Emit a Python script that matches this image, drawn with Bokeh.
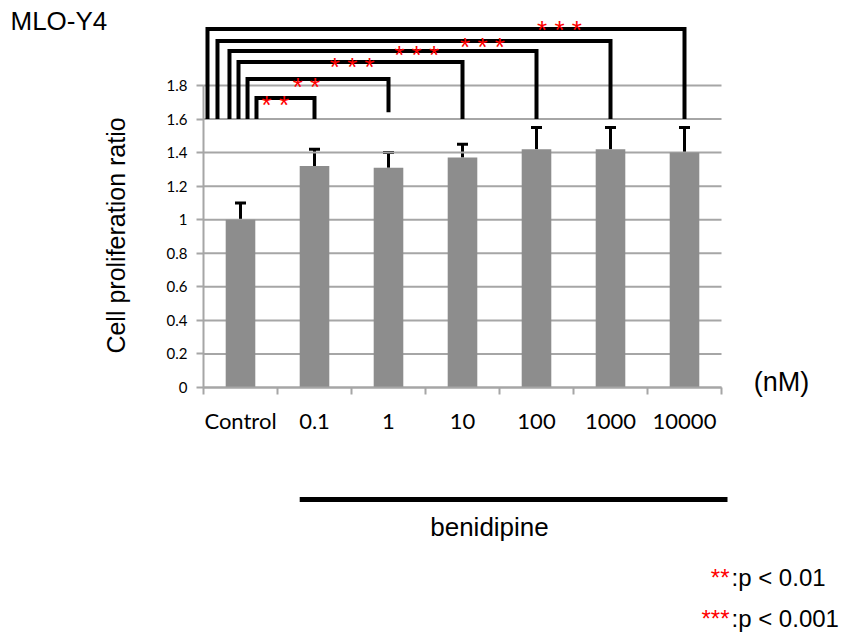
import math
from bokeh.plotting import figure
from bokeh.models import ColumnDataSource, Range1d, FixedTicker, Whisker, TeeHead, Label
from bokeh.core.properties import value
from bokeh.embed import file_html
from bokeh.resources import INLINE

# ---------------- data ----------------
categories = ["Control", "0.1", "1", "10", "100", "1000", "10000"]
ratio = [1.00, 1.32, 1.31, 1.37, 1.42, 1.42, 1.40]
sd = [0.10, 0.10, 0.09, 0.08, 0.13, 0.13, 0.15]
y_ticks = [0, 0.2, 0.4, 0.6, 0.8, 1.0, 1.2, 1.4, 1.6, 1.8]
y_tick_labels = ["0", "0.2", "0.4", "0.6", "0.8", "1", "1.2", "1.4", "1.6", "1.8"]

# significance brackets: compared group, bracket top, stars
bracket_group = ["0.1", "1", "10", "100", "1000", "10000"]
bracket_top = [1.726, 1.839, 1.940, 2.006, 2.065, 2.137]
bracket_right_bottom = [1.60, 1.64, 1.60, 1.60, 1.60, 1.60]
bracket_left_x = [0.716, 0.595, 0.473, 0.351, 0.189, 0.054]
bracket_base = 1.6
stars = ["* *", "* *", "* * *", "* * *", "* * *", "* * *"]
star_x = [0.97, 1.39, 2.01, 2.88, 3.77, 4.81]
star_y = [1.720, 1.827, 1.946, 2.018, 2.065, 2.167]

GRAY = "#a6a6a6"
BAR = "#8d8d8d"
SANS = "Liberation Sans"
TICKF = "Lato"

W, H = 845, 637
# ---------------- geometry helpers (reference px -> data) ----------------
PX_X = 74.0
PX_Y = 167.8
def px_x(X):
    return (X - 203) / PX_X
def px_y(Y):
    return (387 - Y) / PX_Y

centers = [i + 0.5 for i in range(len(categories))]

p = figure(width=W, height=H, output_backend="svg", toolbar_location=None,
           x_range=Range1d(px_x(0), px_x(W)), y_range=Range1d(px_y(H), px_y(0)),
           min_border=0, background_fill_color="white", border_fill_color="white")
p.outline_line_color = None
p.xgrid.visible = False
p.ygrid.visible = False

# x axis drawn at y = 0
xa = p.xaxis[0]
xa.fixed_location = 0
xa.bounds = (0, len(categories))
xa.ticker = FixedTicker(ticks=centers, minor_ticks=list(range(len(categories) + 1)))
xa.major_label_overrides = {c: lab for c, lab in zip(centers, categories)}
xa.major_tick_line_color = None
xa.major_tick_out = 0
xa.major_tick_in = 0
xa.minor_tick_line_color = GRAY
xa.minor_tick_line_width = 2
xa.minor_tick_out = 7
xa.minor_tick_in = 0
xa.axis_line_color = GRAY
xa.axis_line_width = 2
xa.major_label_standoff = 12
xa.major_label_text_font = TICKF
xa.major_label_text_font_size = "22px"
xa.major_label_text_color = "black"

# y axis drawn at x = 0
ya = p.yaxis[0]
ya.fixed_location = 0
ya.bounds = (y_ticks[0], y_ticks[-1])
ya.ticker = FixedTicker(ticks=y_ticks, minor_ticks=[])
ya.major_label_overrides = {t: lab for t, lab in zip(y_ticks, y_tick_labels)}
ya.axis_line_color = GRAY
ya.axis_line_width = 2
ya.major_tick_line_color = GRAY
ya.major_tick_line_width = 2
ya.major_tick_out = 7
ya.major_tick_in = 0
ya.major_label_standoff = 9
ya.major_label_text_font = TICKF
ya.major_label_text_font_size = "15px"
ya.major_label_text_color = "black"

# horizontal grid lines over the category span
n = len(categories)
p.segment(x0=[0] * len(y_ticks), y0=y_ticks, x1=[n] * len(y_ticks), y1=y_ticks,
          line_color=GRAY, line_width=2)

# bars
src = ColumnDataSource(dict(x=centers, top=ratio,
                            upper=[r + s for r, s in zip(ratio, sd)]))
p.vbar(x="x", top="top", width=0.4, source=src, fill_color=BAR, line_color=None)

p.add_layout(Whisker(source=src, base="x", lower="top", upper="upper", dimension="height",
                     lower_head=None,
                     upper_head=TeeHead(size=11, line_width=3, line_color="black"),
                     line_width=3, line_color="black"))

# brackets
xs, ys = [], []
for g, top, rb, lx in zip(bracket_group, bracket_top, bracket_right_bottom, bracket_left_x):
    rx = centers[categories.index(g)]
    xs.append([lx, lx, rx, rx])
    ys.append([bracket_base, top, top, rb])
p.multi_line(xs=xs, ys=ys, line_color="black", line_width=4, line_join="miter")

p.text(x=star_x, y=star_y, text=stars, text_color="red", text_font=value(SANS),
       text_font_size="26px", text_align="center", text_baseline="middle", y_offset=6)

# texts around the chart (anchored at the middle of the capitals)
def lab(text, X, Y, size, align="left", color="black", angle=0):
    p.add_layout(Label(x=px_x(X), y=px_y(Y), text=text, text_font=SANS,
                       text_font_size=size, text_color=color, text_align=align,
                       text_baseline="middle", angle=angle))

lab("MLO-Y4", 10, 20, "26px")
lab("Cell proliferation ratio", 115, 235, "25px", align="center", angle=math.pi / 2)
lab("(nM)", 781, 381, "27px", align="center")
lab("benidipine", 489, 526, "26px", align="center")
lab("**", 729, 577, "24px", align="right", color="red")
lab(":p < 0.01", 731, 577, "24px")
lab("***", 729, 618, "24px", align="right", color="red")
lab(":p < 0.001", 731, 618, "24px")

# treatment bar under the dose groups
treat_start = centers[1] - 0.2
treat_end = px_x(727)
p.segment(x0=[treat_start], y0=[px_y(499)], x1=[treat_end], y1=[px_y(499)],
          line_color="black", line_width=5, line_cap="butt")

open("out.html", "w").write(file_html(p, INLINE))
